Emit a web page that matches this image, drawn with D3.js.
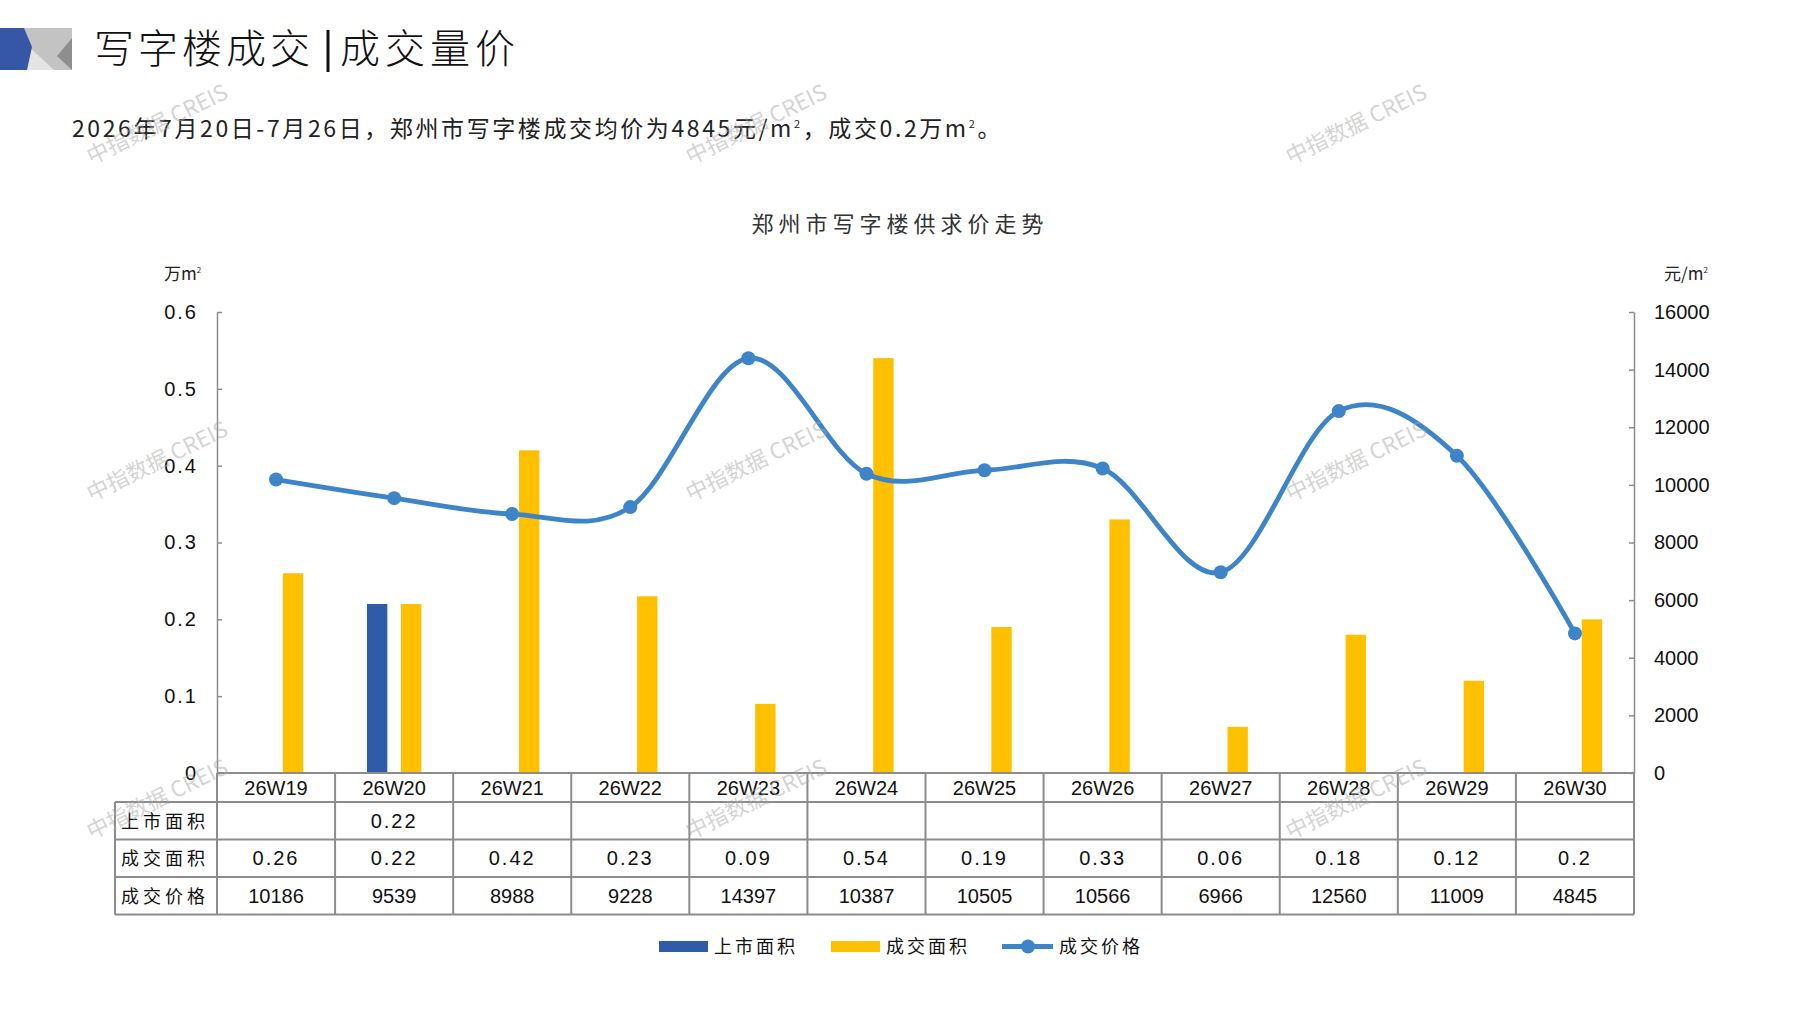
<!DOCTYPE html>
<html lang="zh">
<head>
<meta charset="UTF-8">
<script src="https://cdnjs.cloudflare.com/ajax/libs/d3/7.8.5/d3.min.js"></script>
<style>
  html, body { margin: 0; padding: 0; background: #fff; }
  svg { display: block; }
  .cjk { font-family: "Noto Sans CJK SC", sans-serif; }
  .num { font-family: "Liberation Sans Narrow", "Liberation Sans", "Noto Sans CJK SC", sans-serif; }
</style>
</head>
<body>
<svg id="chart" width="1797" height="1010"></svg>
<script>
// data
const weeks = ["26W19","26W20","26W21","26W22","26W23","26W24","26W25","26W26","26W27","26W28","26W29","26W30"];
const supplyArea = [null, 0.22, null, null, null, null, null, null, null, null, null, null];
const dealArea = [0.26, 0.22, 0.42, 0.23, 0.09, 0.54, 0.19, 0.33, 0.06, 0.18, 0.12, 0.2];
const dealPrice = [10186, 9539, 8988, 9228, 14397, 10387, 10505, 10566, 6966, 12560, 11009, 4845];
const areaTicks = [0, 0.1, 0.2, 0.3, 0.4, 0.5, 0.6];
const priceTicks = [0, 2000, 4000, 6000, 8000, 10000, 12000, 14000, 16000];
const seriesNames = ["上市面积", "成交面积", "成交价格"];

const C_BLUE = "#2f5ba8", C_YELLOW = "#ffc000", C_LINE = "#3d84c8", C_GRID = "#8c8c8c";

const svg = d3.select("#chart");
svg.append("rect").attr("width", 1797).attr("height", 1010).attr("fill", "#fff");

// header icon
const icon = svg.append("g");
icon.append("polygon").attr("points", "20,28 72,28 72,70 20,70").attr("fill", "#c3c3c3");
icon.append("polygon").attr("points", "26,44 54,70 26,70").attr("fill", "#e4e4e4");
icon.append("polygon").attr("points", "72,38 72,70 57,56").attr("fill", "#8e8e8e");
icon.append("polygon").attr("points", "0,28 24,28 32,47 27,70 0,70").attr("fill", "#3656a6");

// header title
svg.append("text").attr("class", "cjk").attr("x", 94).attr("y", 63)
  .attr("font-size", 40).attr("font-weight", 300).attr("letter-spacing", 4).attr("fill", "#111")
  .text("写字楼成交");
svg.append("line").attr("x1", 328).attr("x2", 328).attr("y1", 30).attr("y2", 72)
  .attr("stroke", "#111").attr("stroke-width", 3);
svg.append("text").attr("class", "cjk").attr("x", 340).attr("y", 63)
  .attr("font-size", 40).attr("font-weight", 300).attr("letter-spacing", 5).attr("fill", "#111")
  .text("成交量价");

const sub = svg.append("text").attr("class", "cjk").attr("x", 72).attr("y", 137)
  .attr("font-size", 23).attr("letter-spacing", 2.6).attr("fill", "#222");
sub.append("tspan").text("2026年7月20日-7月26日，郑州市写字楼成交均价为4845元/m");
sub.append("tspan").attr("font-size", 11).attr("dy", -9).text("2");
sub.append("tspan").attr("dy", 9).text("，成交0.2万m");
sub.append("tspan").attr("font-size", 11).attr("dy", -9).text("2");
sub.append("tspan").attr("dy", 9).text("。");

// chart title
svg.append("text").attr("class", "cjk").attr("x", 900).attr("y", 232)
  .attr("text-anchor", "middle").attr("font-size", 22).attr("letter-spacing", 5).attr("fill", "#333")
  .text("郑州市写字楼供求价走势");

// scales
const x0 = d3.scaleBand().domain(weeks).range([217, 1634]).padding(0);
const x1 = d3.scaleBand().domain(["supply", "deal"])
  .range([-x0.bandwidth() * 0.23, x0.bandwidth() * 0.23]).paddingInner(0.4);
const yL = d3.scaleLinear().domain([0, 0.6]).range([773, 312]);
const yR = d3.scaleLinear().domain([0, 16000]).range([773, 312]);

// unit labels
const uL = svg.append("text").attr("class", "cjk").attr("x", 164).attr("y", 280)
  .attr("font-size", 17).attr("fill", "#222");
uL.append("tspan").text("万m");
uL.append("tspan").attr("font-size", 8).attr("dy", -7).text("2");
const uR = svg.append("text").attr("class", "cjk").attr("x", 1664).attr("y", 280)
  .attr("font-size", 17).attr("fill", "#222");
uR.append("tspan").text("元/m");
uR.append("tspan").attr("font-size", 8).attr("dy", -7).text("2");

// axes
const axL = svg.append("g").attr("transform", "translate(217,0)")
  .call(d3.axisLeft(yL).tickValues(areaTicks).tickSizeInner(-5).tickSizeOuter(0).tickPadding(19)
    .tickFormat(d => d === 0 ? "0" : d3.format(".1f")(d)));
const axR = svg.append("g").attr("transform", "translate(1634,0)")
  .call(d3.axisRight(yR).tickValues(priceTicks).tickSizeInner(-5).tickSizeOuter(0).tickPadding(20)
    .tickFormat(d3.format("d")));
[axL, axR].forEach(g => {
  g.select(".domain").attr("stroke", C_GRID).attr("stroke-width", 1.5);
  g.selectAll(".tick line").attr("stroke", C_GRID).attr("stroke-width", 1.5);
  g.selectAll(".tick text").attr("class", "num").attr("font-size", 20).attr("fill", "#111");
});
axL.selectAll(".tick text").attr("letter-spacing", 2);

// bars
const groups = svg.append("g").selectAll("g").data(weeks).join("g")
  .attr("transform", d => `translate(${x0(d) + x0.bandwidth() / 2},0)`);
groups.append("rect")
  .filter((d, i) => supplyArea[i] != null)
  .attr("x", x1("supply")).attr("width", x1.bandwidth())
  .attr("y", d => yL(supplyArea[weeks.indexOf(d)]))
  .attr("height", d => yL(0) - yL(supplyArea[weeks.indexOf(d)]))
  .attr("fill", C_BLUE);
groups.append("rect")
  .attr("x", x1("deal")).attr("width", x1.bandwidth())
  .attr("y", (d, i) => yL(dealArea[i]))
  .attr("height", (d, i) => yL(0) - yL(dealArea[i]))
  .attr("fill", C_YELLOW);

// price line
const pts = weeks.map((w, i) => [x0(w) + x0.bandwidth() / 2, yR(dealPrice[i])]);
svg.append("path").attr("d", d3.line().curve(d3.curveCardinal.tension(0))(pts))
  .attr("fill", "none").attr("stroke", C_LINE).attr("stroke-width", 4.8);
svg.append("g").selectAll("circle").data(pts).join("circle")
  .attr("cx", d => d[0]).attr("cy", d => d[1]).attr("r", 7).attr("fill", C_LINE);

// data table
const tTop = 773, headH = 29, rowH = 37.5, tLeft = 115;
const rowTop = [tTop, tTop + headH, tTop + headH + rowH, tTop + headH + 2 * rowH];
const tBottom = tTop + headH + 3 * rowH;
const tbl = svg.append("g");
const gridLine = (xa, ya, xb, yb) => tbl.append("line").attr("x1", xa).attr("y1", ya).attr("x2", xb).attr("y2", yb)
  .attr("stroke", C_GRID).attr("stroke-width", 2);
gridLine(217, tTop, 1634, tTop);
[rowTop[1], rowTop[2], rowTop[3], tBottom].forEach(y => gridLine(tLeft, y, 1634, y));
gridLine(tLeft, rowTop[1], tLeft, tBottom);
weeks.forEach(w => gridLine(x0(w), tTop, x0(w), tBottom));
gridLine(1634, tTop, 1634, tBottom);

const cx = w => x0(w) + x0.bandwidth() / 2;
tbl.selectAll("text.wk").data(weeks).join("text").attr("class", "num wk")
  .attr("x", cx).attr("y", tTop + headH / 2 + 7).attr("text-anchor", "middle")
  .attr("font-size", 20).attr("fill", "#111").text(d => d);

const rows = [
  {label: seriesNames[0], vals: supplyArea.map(v => v == null ? "" : String(v))},
  {label: seriesNames[1], vals: dealArea.map(v => String(v))},
  {label: seriesNames[2], vals: dealPrice.map(v => String(v))}
];
rows.forEach((r, k) => {
  const yc = rowTop[k + 1] + rowH / 2 + 7;
  tbl.append("text").attr("class", "cjk").attr("x", 121).attr("y", yc)
    .attr("font-size", 18).attr("letter-spacing", 4).attr("fill", "#111").text(r.label);
  tbl.selectAll(null).data(r.vals).join("text").attr("class", "num")
    .attr("x", (d, i) => cx(weeks[i])).attr("y", yc).attr("text-anchor", "middle")
    .attr("font-size", 20).attr("letter-spacing", k < 2 ? 2 : 0).attr("fill", "#111").text(d => d);
});

// legend
const lg = svg.append("g");
lg.append("rect").attr("x", 659).attr("y", 941).attr("width", 49).attr("height", 11).attr("fill", C_BLUE);
lg.append("rect").attr("x", 831).attr("y", 941).attr("width", 49).attr("height", 11).attr("fill", C_YELLOW);
lg.append("line").attr("x1", 1002).attr("x2", 1053).attr("y1", 946.5).attr("y2", 946.5)
  .attr("stroke", C_LINE).attr("stroke-width", 4.8);
lg.append("circle").attr("cx", 1028).attr("cy", 946.5).attr("r", 7).attr("fill", C_LINE);
[[714, seriesNames[0]], [886, seriesNames[1]], [1059, seriesNames[2]]].forEach(([lx, t]) => {
  lg.append("text").attr("class", "cjk").attr("x", lx).attr("y", 953)
    .attr("font-size", 18).attr("letter-spacing", 3).attr("fill", "#111").text(t);
});

// watermarks
const wmX = [157, 756, 1356], wmY = [124, 461, 799];
wmY.forEach(wy => wmX.forEach(wx => {
  svg.append("text").attr("class", "cjk")
    .attr("transform", `translate(${wx},${wy}) rotate(-26)`)
    .attr("text-anchor", "middle").attr("dy", 8)
    .attr("font-size", 22).attr("fill", "#a8a8a8").attr("fill-opacity", 0.5)
    .text("中指数据 CREIS");
}));
</script>
</body>
</html>
